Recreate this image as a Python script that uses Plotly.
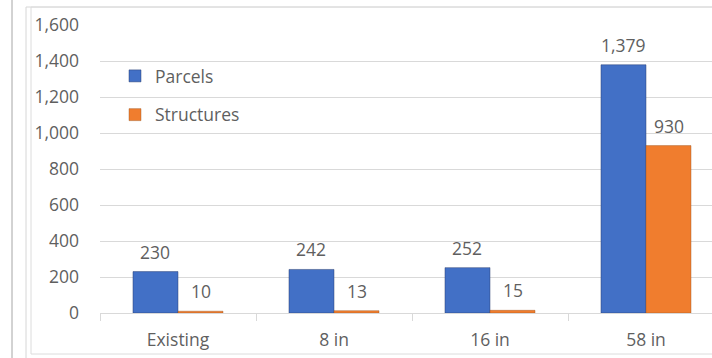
import plotly.graph_objects as go

# Counts affected under each scenario
scenarios = ["Existing", "8 in", "16 in", "58 in"]
parcels = [230, 242, 252, 1379]
structures = [10, 13, 15, 930]

y_ticks = [0, 200, 400, 600, 800, 1000, 1200, 1400, 1600]
y_tick_text = ["0", "200", "400", "600", "800", "1,000", "1,200", "1,400", "1,600"]

W, H = 712, 358
FONT = "Open Sans"
FS = 17.5
TEXT_GREY = "#5f5f5f"
GRID = "#d9d9d9"
BLUE = "#4270C6"
ORANGE = "#F07D2E"

# plot area geometry (pixels)
left_px, cat_px = 100, 156
x_max = -0.5 + (W - left_px) / cat_px

fig = go.Figure()
fig.add_trace(go.Bar(
    x=scenarios, y=parcels, name="Parcels", legendgroup="p",
    marker=dict(color=BLUE, line=dict(color="rgba(40,60,110,0.6)", width=0.8)),
))
fig.add_trace(go.Bar(
    x=scenarios, y=structures, name="Structures", legendgroup="s",
    marker=dict(color=ORANGE, line=dict(color="rgba(150,80,30,0.5)", width=0.8)),
))

# value labels above each bar
half = cat_px * 0.2885 / 2
annotations = []
for series, shift in ((parcels, -half), (structures, half)):
    for cat, val in zip(scenarios, series):
        annotations.append(dict(
            x=cat, y=val, xref="x", yref="y", text=f"{val:,}", showarrow=False,
            xanchor="center", yanchor="bottom", xshift=shift, yshift=6,
            font=dict(family=FONT, size=FS, color=TEXT_GREY),
        ))

# outer frame lines
shapes = [
    dict(type="line", xref="paper", yref="paper", x0=12 / W, x1=12 / W, y0=0, y1=1,
         line=dict(color="#a6a6a6", width=1)),
    dict(type="line", xref="paper", yref="paper", x0=26 / W, x1=26 / W, y0=0, y1=1 - 7 / H,
         line=dict(color="#d6d6d6", width=1)),
    dict(type="line", xref="paper", yref="paper", x0=26 / W, x1=1, y0=1 - 7 / H, y1=1 - 7 / H,
         line=dict(color="#d6d6d6", width=1)),
    dict(type="rect", xref="paper", yref="paper", x0=31 / W, x1=1.01, y0=1 - 354 / H, y1=1 - 7 / H,
         line=dict(color="#dcdcdc", width=1)),
]

fig.update_layout(
    width=W, height=H,
    margin=dict(l=0, r=0, t=0, b=0),
    paper_bgcolor="white", plot_bgcolor="white",
    barmode="group", bargap=0.423, bargroupgap=0,
    font=dict(family=FONT, size=FS, color=TEXT_GREY),
    showlegend=True,
    legend=dict(
        x=115 / W, y=1 - 58 / H, xanchor="left", yanchor="top",
        bgcolor="rgba(0,0,0,0)", tracegroupgap=13,
        font=dict(family=FONT, size=FS, color=TEXT_GREY),
    ),
    xaxis=dict(
        domain=[left_px / W, 1], range=[-0.5, x_max], automargin=False,
        showline=True, linecolor=GRID, linewidth=1,
        ticks="outside", tickson="boundaries", ticklen=7, tickcolor=GRID,
        ticklabelstandoff=11, showgrid=False,
        tickfont=dict(family=FONT, size=FS, color=TEXT_GREY),
    ),
    yaxis=dict(
        domain=[1 - 313 / H, 1 - 25 / H], range=[0, 1600], automargin=False,
        tickvals=y_ticks, ticktext=y_tick_text,
        showgrid=True, gridcolor=GRID, gridwidth=1, zeroline=False,
        ticks="", ticklabelstandoff=20,
        tickfont=dict(family=FONT, size=FS, color=TEXT_GREY),
    ),
    annotations=annotations,
    shapes=shapes,
)

fig.write_html("out.html")
